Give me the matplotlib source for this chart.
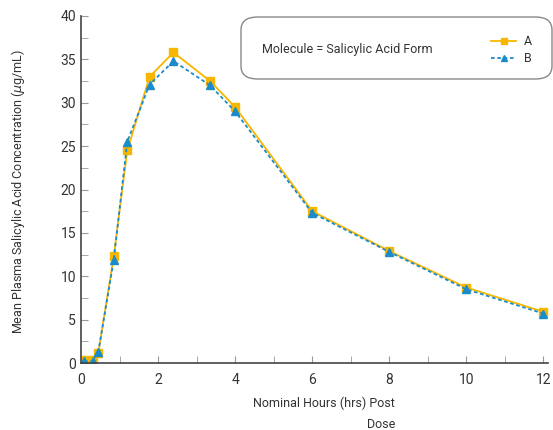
import matplotlib
matplotlib.use("Agg")
import matplotlib.pyplot as plt
from matplotlib.patches import FancyBboxPatch
from matplotlib.ticker import MultipleLocator

plt.rcParams['font.family'] = ['Roboto', 'DejaVu Sans']

# data
hours = [0.08, 0.3, 0.45, 0.85, 1.2, 1.78, 2.4, 3.35, 4.0, 6.0, 8.0, 10.0, 12.0]
conc_a = [0.3, 0.3, 1.2, 12.3, 24.5, 33.0, 35.8, 32.5, 29.5, 17.5, 12.9, 8.7, 5.9]
conc_b = [0.2, 0.2, 1.3, 11.9, 25.5, 32.1, 34.8, 32.0, 29.0, 17.3, 12.8, 8.5, 5.7]
series_labels = ["A", "B"]

col_a = "#F9B600"
col_b = "#1A8CC9"
txt = "#333333"

fig = plt.figure(figsize=(5.53, 4.30), dpi=100)
ax = fig.add_axes([0.1465, 0.1558, 0.8445, 0.807])

ax.plot(hours, conc_a, color=col_a, lw=1.3, marker="s", ms=5.5,
        label=series_labels[0])
ax.plot(hours, conc_b, color=col_b, lw=1.3, ls=(0, (2, 1.5)), marker="^", ms=6,
        label=series_labels[1])

ax.set_xlim(0, 12.12)
ax.set_ylim(0, 40)
ax.xaxis.set_major_locator(MultipleLocator(2))
ax.xaxis.set_minor_locator(MultipleLocator(1))
ax.yaxis.set_major_locator(MultipleLocator(5))
ax.yaxis.set_minor_locator(MultipleLocator(2.5))
ax.tick_params(which="both", direction="in", length=5, color="#999999",
               labelsize=10, labelcolor=txt)
ax.tick_params(axis="x", pad=7)
for s in ["top", "right"]:
    ax.spines[s].set_visible(False)
for s in ["left", "bottom"]:
    ax.spines[s].set_color("#444444")
    ax.spines[s].set_linewidth(1.2)

# axis titles
fig.text(18 / 553, 1 - 192 / 430,
         "Mean Plasma Salicylic Acid Concentration ($\\mu$g/mL)",
         rotation=90, ha="center", va="center", fontsize=9, color=txt)
fig.text(395 / 553, 1 - 403 / 430, "Nominal Hours (hrs) Post",
         ha="right", va="center", fontsize=9, color=txt)
fig.text(395 / 553, 1 - 424 / 430, "Dose",
         ha="right", va="center", fontsize=9, color=txt)

# rounded box with caption and legend
box = FancyBboxPatch((241 / 553, 1 - 79 / 430), 311 / 553, 62 / 430,
                     boxstyle="round,pad=0,rounding_size=0.03",
                     transform=fig.transFigure, fc="white", ec="#888888",
                     lw=1.0, clip_on=False, zorder=3)
ax.add_patch(box)
fig.text(262 / 553, 1 - 49 / 430, "Molecule = Salicylic Acid Form",
         ha="left", va="center", fontsize=9, color=txt, zorder=6)
leg = ax.legend(loc="center left", bbox_to_anchor=(480 / 553, 1 - 50 / 430),
                bbox_transform=fig.transFigure, frameon=False, fontsize=9,
                handlelength=2.0, handletextpad=0.6, labelspacing=0.3,
                markerscale=0.75)
leg.set_zorder(6)
for t in leg.get_texts():
    t.set_color(txt)

fig.savefig("out.png", dpi=100)
